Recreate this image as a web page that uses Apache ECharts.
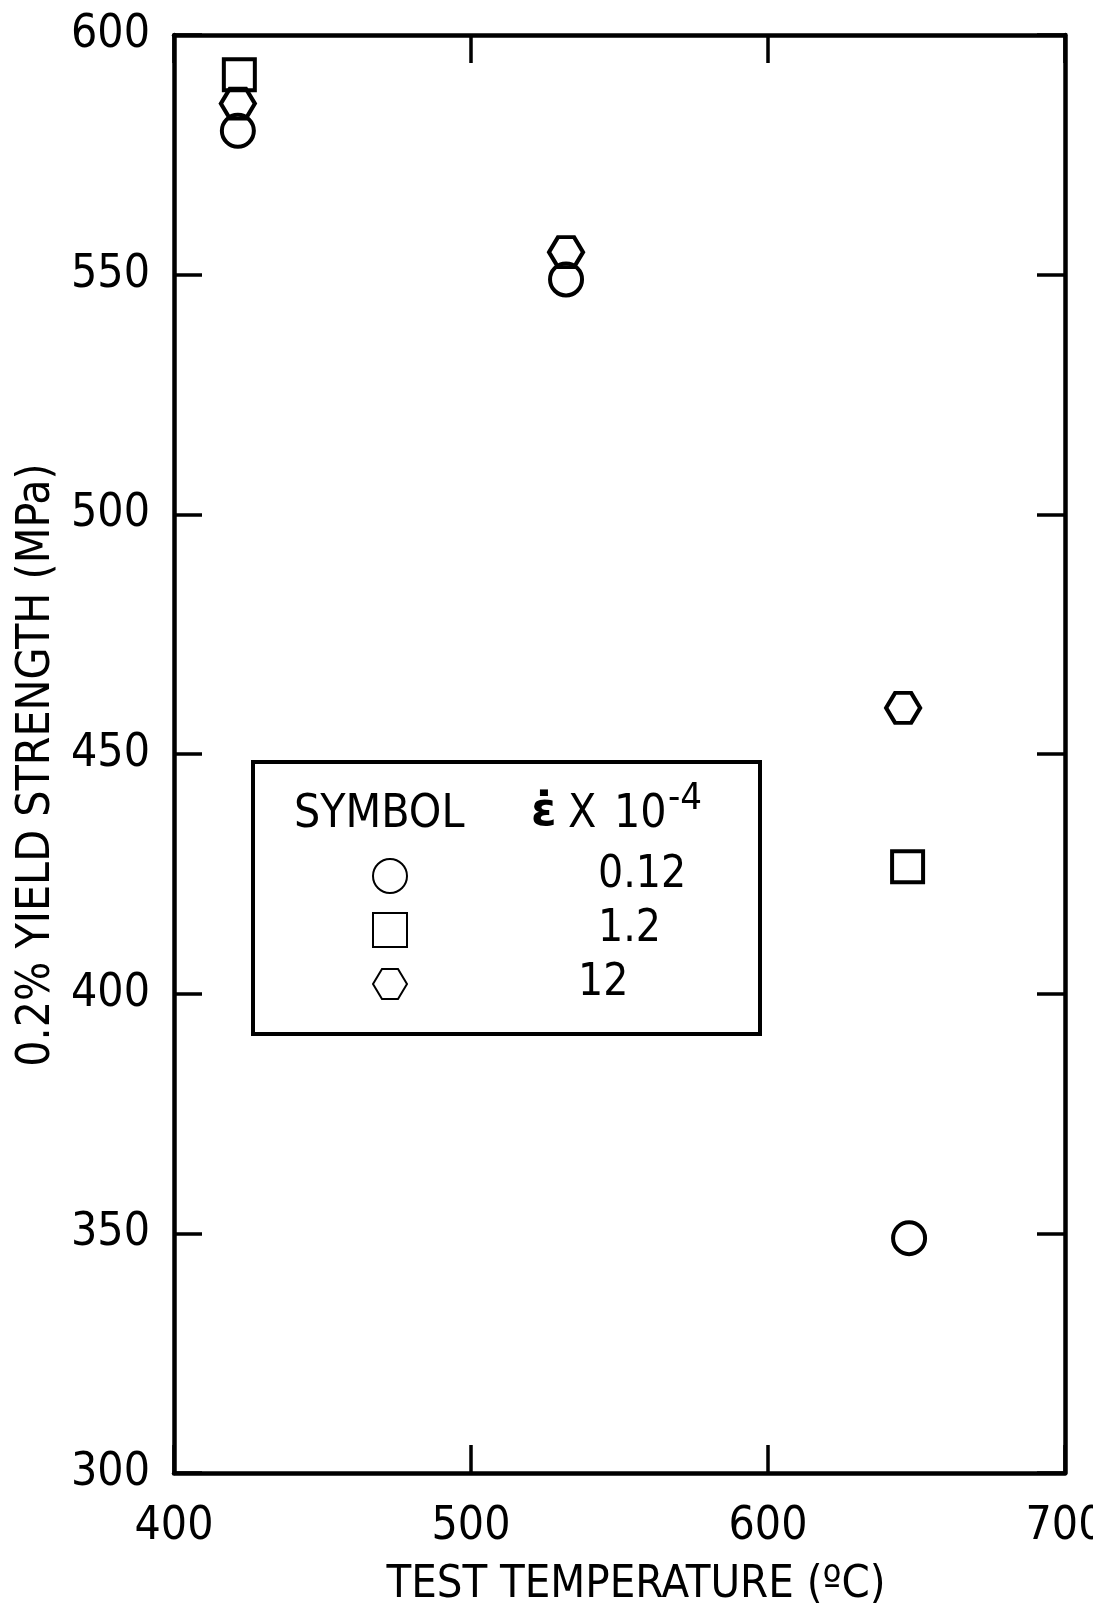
<!DOCTYPE html>
<html><head><meta charset="utf-8">
<script src="https://cdn.jsdelivr.net/npm/echarts@6/dist/echarts.min.js"></script>
<style>html,body{margin:0;padding:0;background:#fff;overflow:hidden}#c{width:1093px;height:1610px}</style>
</head><body><div id="c"></div>
<script>
// ---- data ----
const xTicks = [400, 500, 600, 700];
const yTicks = [300, 350, 400, 450, 500, 550, 600];
const rateLabels = ['0.12', '1.2', '12'];
const circleData = [[421.5, 580.0], [532, 549.0], [647.5, 349.0]];
const squareData = [[422, 591.7], [647, 426.5]];
const hexData = [[421.5, 585.7], [532, 554.7], [645.5, 459.6]];

const F = "'Liberation Sans Narrow', 'DejaVu Sans Condensed', sans-serif";
const K = '#000';
const HEX = 'path://M0,15 L9,0 L25,0 L34,15 L25,30 L9,30 Z';

const chart = echarts.init(document.getElementById('c'), null, {renderer: 'canvas'});

const axisCommon = {
  axisLine: {show: true, lineStyle: {color: K, width: 4.5}},
  axisTick: {show: true, inside: true, length: 28, lineStyle: {color: K, width: 3.5}},
  splitLine: {show: false}
};

const padFor = {'0.12': 186, '1.2': 186, '12': 166};
const mk = {color: 'rgba(255,255,255,0)', borderColor: K, borderWidth: 4, opacity: 1};

chart.setOption({
  animation: false,
  backgroundColor: '#fff',
  grid: {left: 174, right: 28, top: 35, bottom: 137, containLabel: false, outerBoundsMode: 'none'},
  xAxis: [
    Object.assign({}, axisCommon, {
      type: 'value', position: 'bottom', min: xTicks[0], max: xTicks[xTicks.length - 1], interval: 100,
      axisLabel: {color: K, fontSize: 46, fontFamily: F, margin: 31},
      name: 'TEST TEMPERATURE (ºC)', nameLocation: 'middle', nameGap: 90,
      nameTextStyle: {color: K, fontSize: 45, fontFamily: F, padding: [0, 0, 0, 33]}
    }),
    Object.assign({}, axisCommon, {
      type: 'value', position: 'top', min: xTicks[0], max: xTicks[xTicks.length - 1], interval: 100,
      axisLabel: {show: false}
    })
  ],
  yAxis: [
    Object.assign({}, axisCommon, {
      type: 'value', position: 'left', min: yTicks[0], max: yTicks[yTicks.length - 1], interval: 50,
      axisLabel: {color: K, fontSize: 46, fontFamily: F, margin: 24},
      name: '0.2% YIELD STRENGTH (MPa)', nameLocation: 'middle', nameGap: 104,
      nameTextStyle: {color: K, fontSize: 46, fontFamily: F, padding: [0, 22, 0, 0]}
    }),
    Object.assign({}, axisCommon, {
      type: 'value', position: 'right', min: yTicks[0], max: yTicks[yTicks.length - 1], interval: 50,
      axisLabel: {show: false}
    })
  ],
  legend: {
    orient: 'vertical', left: 367, top: 849,
    itemWidth: 34, itemHeight: 34, itemGap: 10,
    data: [
      {name: rateLabels[0], icon: 'circle'},
      {name: rateLabels[1], icon: 'rect'},
      {name: rateLabels[2], icon: HEX}
    ],
    formatter: function (n) { return '{p' + rateLabels.indexOf(n) + '|' + n + '}'; },
    textStyle: {
      color: K, fontFamily: F, fontSize: 44,
      rich: {
        p0: {fontFamily: F, fontSize: 44, color: K, lineHeight: 30, padding: [0, 0, 0, padFor['0.12']]},
        p1: {fontFamily: F, fontSize: 44, color: K, lineHeight: 30, padding: [0, 0, 0, padFor['1.2']]},
        p2: {fontFamily: F, fontSize: 44, color: K, lineHeight: 30, padding: [0, 0, 0, padFor['12']]}
      }
    }
  },
  graphic: [
    {type: 'rect', shape: {x: 253, y: 762, width: 507, height: 272},
     style: {fill: 'none', stroke: K, lineWidth: 4}, z: 50},
    {type: 'text', x: 294, y: 815, z: 51,
     style: {text: 'SYMBOL', font: '46px ' + F, fill: K, textVerticalAlign: 'middle'}},
    {type: 'text', x: 531, y: 813, z: 51,
     style: {text: 'ε\u0307', font: 'bold 46px "DejaVu Sans"', fill: K, textVerticalAlign: 'middle'}},
    {type: 'text', x: 568, y: 815, z: 51,
     style: {text: 'X', font: '46px ' + F, fill: K, textVerticalAlign: 'middle'}},
    {type: 'text', x: 614, y: 815, z: 51,
     style: {text: '10', font: '46px ' + F, fill: K, textVerticalAlign: 'middle'}},
    {type: 'text', x: 668, y: 799, z: 51,
     style: {text: '-4', font: '38px ' + F, fill: K, textVerticalAlign: 'middle'}}
  ],
  series: [
    {name: rateLabels[0], type: 'scatter', data: circleData, symbol: 'circle', symbolSize: 32, itemStyle: mk},
    {name: rateLabels[1], type: 'scatter', data: squareData, symbol: 'rect', symbolSize: 31, itemStyle: mk},
    {name: rateLabels[2], type: 'scatter', data: hexData, symbol: HEX, symbolSize: [34, 30], itemStyle: mk}
  ]
});
</script></body></html>
